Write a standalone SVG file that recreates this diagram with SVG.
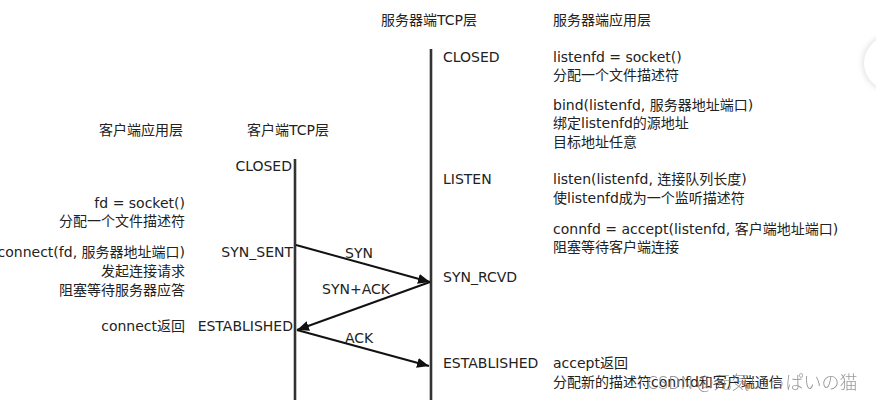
<svg xmlns="http://www.w3.org/2000/svg" width="876" height="400" viewBox="0 0 876 400">
<style>
text{font-family:"DejaVu Sans","Noto Sans CJK SC",sans-serif;font-size:14px;fill:#222}
.r{text-anchor:end}
.life{stroke:#333;stroke-width:2.6;fill:none}
.msg{stroke:#111;stroke-width:2;fill:none}
.wm{font-family:"Noto Sans CJK JP","Noto Sans",sans-serif;font-size:18px;font-weight:300;fill:#888;opacity:.85}
</style>
<defs>
<marker id="ah" viewBox="0 0 12 10" refX="12" refY="5" markerWidth="12" markerHeight="10" markerUnits="userSpaceOnUse" orient="auto">
<path d="M0,0 L12,5 L0,10 Z" fill="#111"/>
</marker>
<filter id="sh" x="-50%" y="-50%" width="200%" height="200%">
<feGaussianBlur stdDeviation="3"/>
</filter>
</defs>
<rect width="876" height="400" fill="#fff"/>
<g id="ui-circle">
<circle cx="891" cy="63" r="28" fill="#ddd" filter="url(#sh)"/>
<circle cx="891" cy="63" r="27" fill="#fff"/>
</g>
<g id="headers">
<text x="381" y="25">服务器端TCP层</text>
<text x="553" y="25">服务器端应用层</text>
<text x="99" y="135">客户端应用层</text>
<text x="247" y="135">客户端TCP层</text>
</g>
<g id="lifelines">
<line class="life" x1="295" y1="159" x2="295" y2="400"/>
<line class="life" x1="431" y1="49" x2="431" y2="400"/>
</g>
<g id="connectors">
<line class="msg" x1="296" y1="245" x2="430" y2="282" marker-end="url(#ah)"/>
<line class="msg" x1="430" y1="282" x2="297" y2="330" marker-end="url(#ah)"/>
<line class="msg" x1="297" y1="330" x2="429" y2="366" marker-end="url(#ah)"/>
<text x="345" y="258">SYN</text>
<text x="322" y="294">SYN+ACK</text>
<text x="345" y="343">ACK</text>
</g>
<g id="client-tcp">
<text class="r" x="292" y="171">CLOSED</text>
<text class="r" x="293" y="257">SYN_SENT</text>
<text class="r" x="293" y="331">ESTABLISHED</text>
</g>
<g id="client-app">
<text class="r" x="185" y="208">fd = socket()</text>
<text class="r" x="185" y="226">分配一个文件描述符</text>
<text class="r" x="185" y="257">connect(fd, 服务器地址端口)</text>
<text class="r" x="185" y="276">发起连接请求</text>
<text class="r" x="185" y="295">阻塞等待服务器应答</text>
<text class="r" x="185" y="331">connect返回</text>
</g>
<g id="server-tcp">
<text x="443" y="62">CLOSED</text>
<text x="443" y="184">LISTEN</text>
<text x="443" y="282">SYN_RCVD</text>
<text x="443" y="368">ESTABLISHED</text>
</g>
<g id="server-app">
<text x="553" y="62">listenfd = socket()</text>
<text x="553" y="80">分配一个文件描述符</text>
<text x="553" y="110">bind(listenfd, 服务器地址端口)</text>
<text x="553" y="128">绑定listenfd的源地址</text>
<text x="553" y="147">目标地址任意</text>
<text x="553" y="184">listen(listenfd, 连接队列长度)</text>
<text x="553" y="203">使listenfd成为一个监听描述符</text>
<text x="553" y="234">connfd = accept(listenfd, 客户端地址端口)</text>
<text x="553" y="252">阻塞等待客户端连接</text>
<text x="553" y="368">accept返回</text>
<text x="553" y="387">分配新的描述符connfd和客户端通信</text>
</g>
<text class="wm" x="647" y="389">CSDN @元気いっぱいの猫</text>
</svg>
